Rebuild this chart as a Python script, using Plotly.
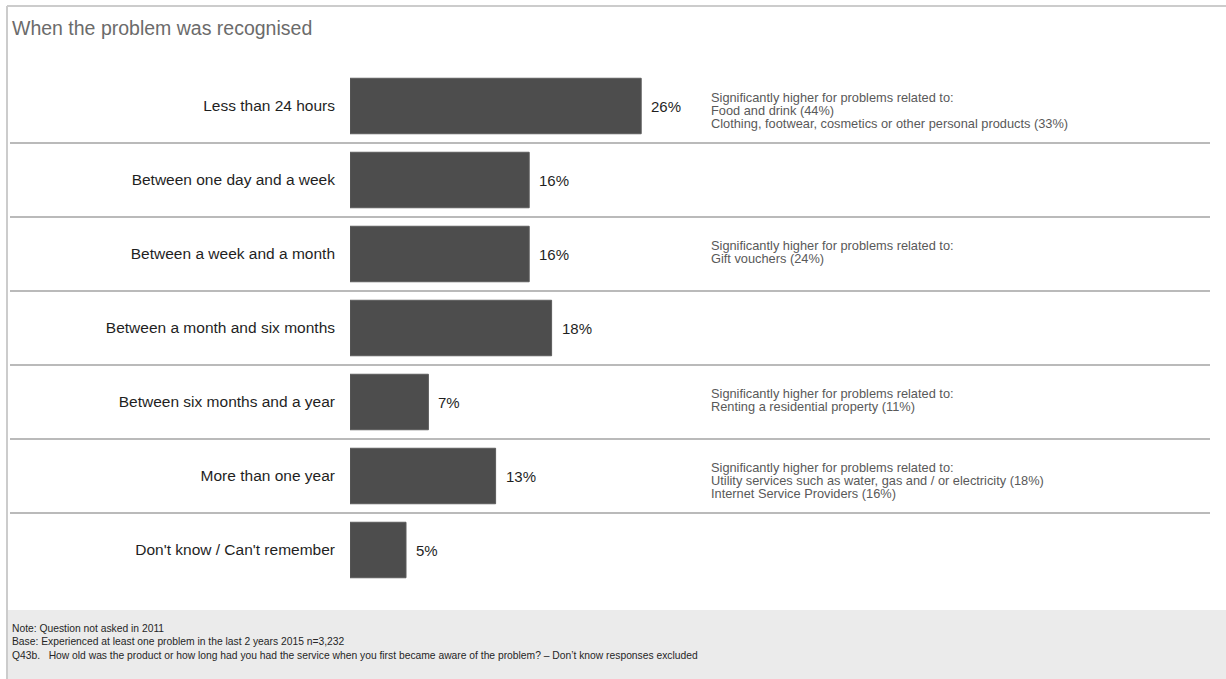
import plotly.graph_objects as go

categories = [
    "Less than 24 hours",
    "Between one day and a week",
    "Between a week and a month",
    "Between a month and six months",
    "Between six months and a year",
    "More than one year",
    "Don't know / Can't remember",
]
values = [26, 16, 16, 18, 7, 13, 5]
value_labels = ["26%", "16%", "16%", "18%", "7%", "13%", "5%"]

side_notes = [
    ["Significantly higher for problems related to:",
     "Food and drink (44%)",
     "Clothing, footwear, cosmetics or other personal products (33%)"],
    [],
    ["Significantly higher for problems related to:",
     "Gift vouchers (24%)"],
    [],
    ["Significantly higher for problems related to:",
     "Renting a residential property (11%)"],
    ["Significantly higher for problems related to:",
     "Utility services such as water, gas and / or electricity (18%)",
     "Internet Service Providers (16%)"],
    [],
]

title_text = "When the problem was recognised"
footer_lines = [
    "Note: Question not asked in 2011",
    "Base: Experienced at least one problem in the last 2 years 2015 n=3,232",
    "Q43b.   How old was the product or how long had you had the service when you first became aware of the problem? \u2013 Don\u2019t know responses excluded",
]

W, H = 1226, 679
L, R_EDGE = 350, 1210
TOP, BOT = 69, 587
PW, PH = R_EDGE - L, BOT - TOP
X_MAX = PW / 11.2

def px(x):
    return (x - L) / PW

def py(y):
    return (BOT - y) / PH

FONT = "Liberation Sans, Arial, sans-serif"

fig = go.Figure()
fig.add_trace(go.Bar(
    x=values, y=categories, orientation="h", width=0.75,
    marker=dict(color="#4d4d4d", line=dict(color="#5c5c5c", width=1)),
    hoverinfo="skip",
))

shapes = []
# outer border
shapes.append(dict(type="line", xref="paper", yref="paper",
                   x0=px(7), x1=px(W + 5), y0=py(6), y1=py(6),
                   line=dict(color="#cccccc", width=2)))
shapes.append(dict(type="line", xref="paper", yref="paper",
                   x0=px(7), x1=px(7), y0=py(6), y1=py(H + 5),
                   line=dict(color="#cccccc", width=2)))
# footer box
shapes.append(dict(type="rect", xref="paper", yref="paper", layer="below",
                   x0=px(8), x1=px(W + 5), y0=py(610), y1=py(H + 5),
                   fillcolor="#ebebeb", line=dict(width=0)))
# separators between categories
for i in range(len(categories) - 1):
    shapes.append(dict(type="line", xref="paper", yref="y",
                       x0=px(10), x1=1, y0=i + 0.5, y1=i + 0.5,
                       line=dict(color="#a3a3a3", width=1.5)))

annotations = []
annotations.append(dict(text=title_text, xref="paper", yref="paper",
                        x=px(10), y=py(28), xanchor="left", yanchor="middle",
                        showarrow=False,
                        font=dict(family=FONT, size=19.5, color="#6b6b6b")))
for cat, v, lab in zip(categories, values, value_labels):
    annotations.append(dict(text=lab, x=v, y=cat, xref="x", yref="y",
                            xanchor="left", yanchor="middle", xshift=8,
                            showarrow=False,
                            font=dict(family=FONT, size=15, color="#1f1f1f")))
for cat, notes in zip(categories, side_notes):
    for k, line in enumerate(notes):
        annotations.append(dict(text=line, x=px(709), y=cat, xref="paper", yref="y",
                                xanchor="left", yanchor="middle",
                                yshift=9 - 13 * k, showarrow=False,
                                font=dict(family=FONT, size=12.8, color="#595959")))
annotations.append(dict(text="<br>".join(footer_lines), xref="paper", yref="paper",
                        x=px(10), y=py(642), xanchor="left", yanchor="middle",
                        align="left", showarrow=False,
                        font=dict(family=FONT, size=10.3, color="#262626")))

fig.update_layout(
    width=W, height=H,
    margin=dict(l=L, r=W - R_EDGE, t=TOP, b=H - BOT, pad=0),
    paper_bgcolor="white", plot_bgcolor="white",
    showlegend=False,
    shapes=shapes, annotations=annotations,
    xaxis=dict(range=[0, X_MAX], visible=False, fixedrange=True),
    yaxis=dict(categoryorder="array", categoryarray=categories,
               range=[len(categories) - 0.5, -0.5],
               showgrid=False, zeroline=False, showline=False, ticks="",
               ticklabelstandoff=14,
               tickfont=dict(family=FONT, size=15.5, color="#1f1f1f"),
               fixedrange=True),
)

fig.write_html("out.html", config={"displayModeBar": False},
               post_script="document.body.style.margin='0';document.body.style.overflow='hidden';")
